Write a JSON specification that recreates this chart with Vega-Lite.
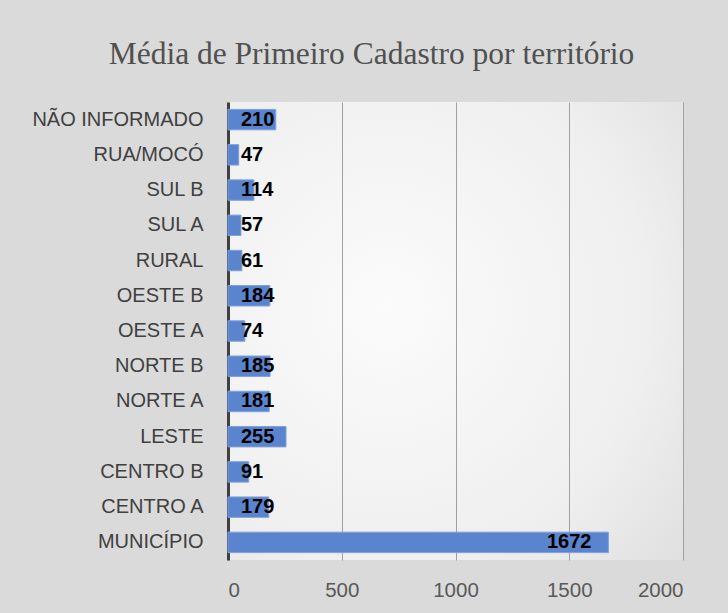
{
  "$schema": "https://vega.github.io/schema/vega-lite/v6.json",
  "autosize": {"type": "none"},
  "width": 455,
  "height": 458,
  "padding": {"left": 228, "top": 102, "right": 45, "bottom": 53},
  "background": "#dadada",
  "title": {
    "text": "Média de Primeiro Cadastro por território",
    "font": "Liberation Serif",
    "fontSize": 31.5,
    "fontWeight": "normal",
    "color": "#505050",
    "anchor": "middle",
    "frame": "group",
    "dx": -84,
    "dy": 29,
    "baseline": "alphabetic",
    "offset": 36
  },
  "config": {
    "view": {
      "stroke": null,
      "fill": {
        "gradient": "radial",
        "x1": 0.35, "y1": 0.45, "r1": 0,
        "x2": 0.35, "y2": 0.45, "r2": 0.95,
        "stops": [
          {"offset": 0, "color": "#fbfbfb"},
          {"offset": 0.6, "color": "#efefef"},
          {"offset": 1, "color": "#dadada"}
        ]
      }
    }
  },
  "data": {
    "values": [
      {"t": "NÃO INFORMADO", "v": 210},
      {"t": "RUA/MOCÓ", "v": 47},
      {"t": "SUL B", "v": 114},
      {"t": "SUL A", "v": 57},
      {"t": "RURAL", "v": 61},
      {"t": "OESTE B", "v": 184},
      {"t": "OESTE A", "v": 74},
      {"t": "NORTE B", "v": 185},
      {"t": "NORTE A", "v": 181},
      {"t": "LESTE", "v": 255},
      {"t": "CENTRO B", "v": 91},
      {"t": "CENTRO A", "v": 179},
      {"t": "MUNICÍPIO", "v": 1672}
    ]
  },
  "encoding": {
    "y": {
      "field": "t",
      "type": "nominal",
      "sort": null,
      "scale": {"paddingInner": 0.42, "paddingOuter": 0.21},
      "axis": {
        "title": null,
        "ticks": false,
        "labelFont": "Liberation Sans",
        "labelFontSize": 20,
        "labelColor": "#404040",
        "labelPadding": 25,
        "domainColor": "#404040",
        "domainWidth": 3,
        "grid": false
      }
    }
  },
  "layer": [
    {
      "mark": {"type": "bar", "color": "#5B84CE", "stroke": "#7fa0de", "strokeWidth": 1},
      "encoding": {
        "x": {
          "field": "v",
          "type": "quantitative",
          "scale": {"domain": [0, 2000], "nice": false},
          "axis": {
            "title": null,
            "values": [0, 500, 1000, 1500, 2000],
            "format": "d",
            "domain": false,
            "ticks": false,
            "labelFont": "Liberation Sans",
            "labelFontSize": 20.5,
            "labelColor": "#595959",
            "labelPadding": 20,
            "grid": true,
            "gridColor": "#a0a0a0",
            "gridWidth": 1
          }
        }
      }
    },
    {
      "transform": [{"filter": "datum.v < 1000"}],
      "mark": {"type": "text", "align": "left", "baseline": "middle", "dx": 13, "font": "Liberation Sans", "fontSize": 20, "fontWeight": "bold", "color": "#000000"},
      "encoding": {
        "x": {"datum": 0, "type": "quantitative"},
        "text": {"field": "v", "type": "quantitative"}
      }
    },
    {
      "transform": [{"filter": "datum.v >= 1000"}],
      "mark": {"type": "text", "align": "right", "baseline": "middle", "dx": -17, "font": "Liberation Sans", "fontSize": 20, "fontWeight": "bold", "color": "#000000"},
      "encoding": {
        "x": {"field": "v", "type": "quantitative"},
        "text": {"field": "v", "type": "quantitative"}
      }
    }
  ]
}
